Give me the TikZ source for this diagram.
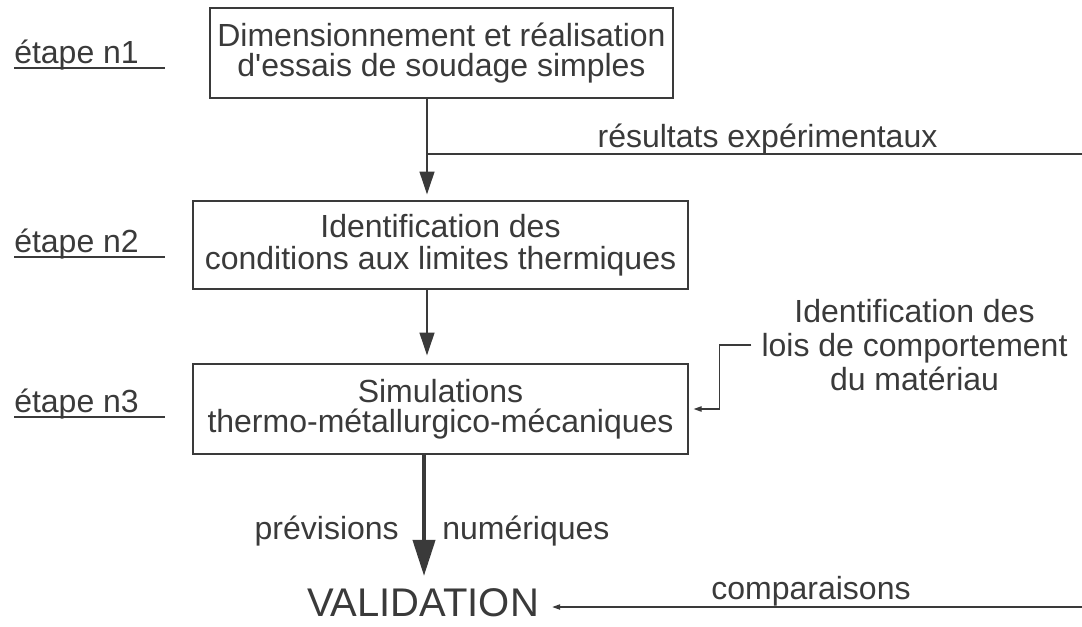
\documentclass[tikz,border=0pt]{standalone}
\usepackage{fontspec}
\setmainfont{Liberation Sans}
\usetikzlibrary{arrows.meta}
\definecolor{ink}{HTML}{3A3A3A}
\tikzset{
	stepbox/.style={draw=ink, line width=0.9pt, inner sep=0pt, align=center},
	steptag/.style={anchor=base west, inner sep=0pt},
	flow/.style={draw=ink, line width=1.5pt, -{Triangle[length=17pt,width=11pt]}},
	bigflow/.style={draw=ink, line width=3pt, -{Triangle[length=27pt,width=16.5pt]}},
	thinflow/.style={draw=ink, line width=0.9pt, -{Triangle[length=6pt,width=4pt]}}
}
\begin{document}
\begin{tikzpicture}[x=0.75pt, y=-0.75pt,
		every node/.style={text=ink, font=\fontsize{24}{22.5}\selectfont}]
		\useasboundingbox (0,0) rectangle (1082,626);
		%--step boxes
		\node[stepbox, minimum width=347.25pt, minimum height=67.5pt] (box1) at (441.5,53)
			{Dimensionnement et réalisation\\d\textquotesingle essais de soudage simples};
		\node[stepbox, minimum width=371.25pt, minimum height=66pt, font=\fontsize{24}{24}\selectfont] (box2) at (440.5,245)
			{Identification des\\conditions aux limites thermiques};
		\node[stepbox, minimum width=371.25pt, minimum height=67.5pt] (box3) at (440.5,409)
			{Simulations\\thermo-métallurgico-mécaniques};
		
		%--step tags
		\foreach \n/\y in {1/63, 2/252, 3/412}{
			\node[steptag] (tag\n) at (14,\y) {étape n\n};
			\draw[ink, line width=0.9pt] ([yshift=-3.75pt]tag\n.base west) -- ++(151,0);
		}
		
		%--flow between steps
		\coordinate (axis) at (427,0);
		\coordinate (axisb) at (424,0);
		\draw[flow, shorten >=4.5pt] (box1.south -| axis) -- (box2.north -| axis);
		\draw[flow, shorten >=6pt] (box2.south -| axis) -- (box3.north -| axis);
		
		%--experimental results
		\coordinate (resend) at (1082,154);
		\node[anchor=base, inner sep=0pt] (res) at (767.5,147) {résultats expérimentaux};
		\draw[ink, line width=0.9pt] (resend) -- (resend -| axis);
		
		%--material laws
		\node[align=center, inner xsep=7.5pt, inner ysep=0pt, font=\fontsize{24}{25.5}\selectfont]
			(lois) at (914.5,345) {Identification des\\lois de comportement\\du matériau};
		\draw[thinflow] (lois.west) -- ++(-32,0) |- ([xshift=3.75pt]box3.east);
		
		%--validation
		\node[inner xsep=9.75pt, inner ysep=3pt, font=\fontsize{30}{36}\selectfont] (valid) at (423,603)
			{VALIDATION};
		\draw[bigflow, shorten >=6.5pt] (box3.south -| axisb) -- (valid.north -| axisb);
		\node[anchor=east, inner sep=0pt] (prev) at (399,531) {prévisions};
		\node[anchor=west, inner sep=0pt] (num) at (442,531) {numériques};
		
		\coordinate (cmpend) at (1082,607);
		\node[anchor=base, inner sep=0pt] (cmp) at (811,599) {comparaisons};
		\draw[thinflow] (cmpend) -- (cmpend -| valid.east);
	\end{tikzpicture}
\end{document}
